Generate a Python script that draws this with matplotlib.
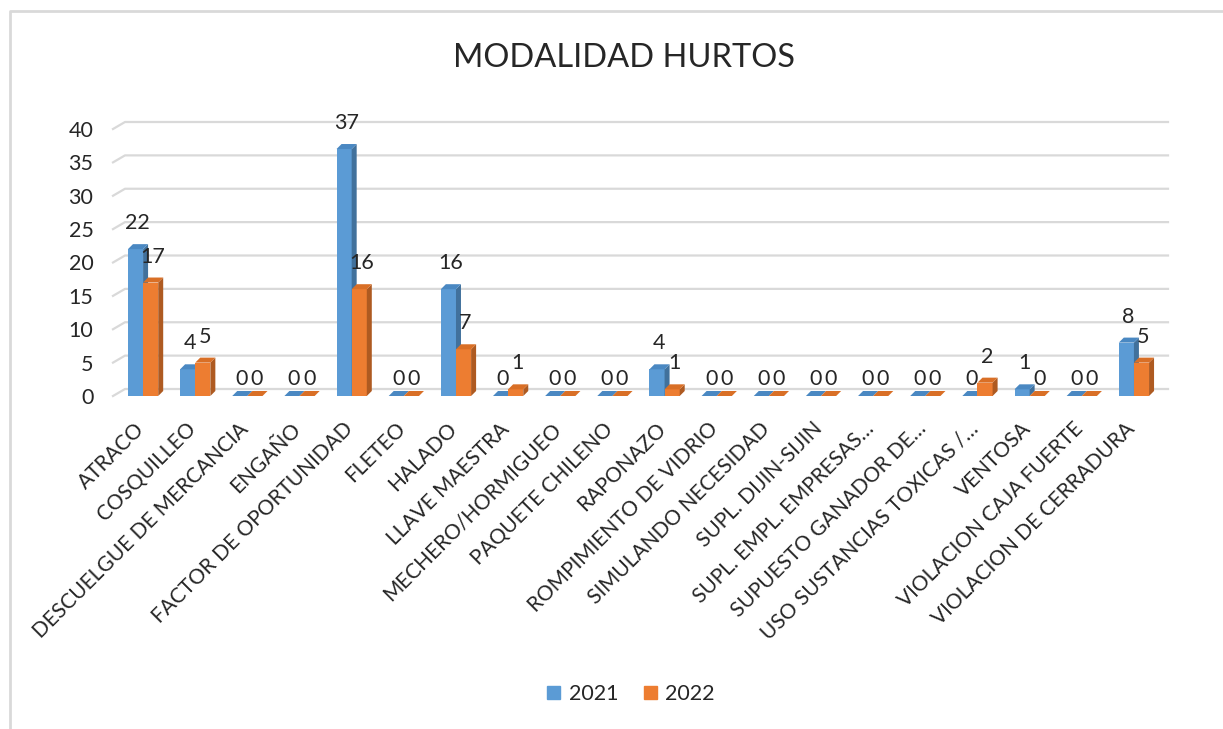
import matplotlib.pyplot as plt
import numpy as np
from matplotlib.patches import Polygon, Patch
from matplotlib.lines import Line2D
from matplotlib.transforms import ScaledTranslation

categorias = ['ATRACO', 'COSQUILLEO', 'DESCUELGUE DE MERCANCIA', 'ENGAÑO',
              'FACTOR DE OPORTUNIDAD', 'FLETEO', 'HALADO', 'LLAVE MAESTRA',
              'MECHERO/HORMIGUEO', 'PAQUETE CHILENO', 'RAPONAZO',
              'ROMPIMIENTO DE VIDRIO', 'SIMULANDO NECESIDAD', 'SUPL. DIJIN-SIJIN',
              'SUPL. EMPL. EMPRESAS…', 'SUPUESTO GANADOR DE…',
              'USO SUSTANCIAS TOXICAS /…', 'VENTOSA', 'VIOLACION CAJA FUERTE',
              'VIOLACION DE CERRADURA']
v2021 = [22, 4, 0, 0, 37, 0, 16, 0, 0, 0, 4, 0, 0, 0, 0, 0, 0, 1, 0, 8]
v2022 = [17, 5, 0, 0, 16, 0, 7, 1, 0, 0, 1, 0, 0, 0, 0, 0, 2, 0, 0, 5]

plt.rcParams['font.family'] = ['Lato', 'DejaVu Sans']
FS = 15.5

fig = plt.figure(figsize=(12.23, 7.29), dpi=100)
ax = fig.add_axes([117 / 1223, 1 - 396 / 729, 1043 / 1223, 267 / 729])
n = len(categorias)
x = np.arange(n)
w = 0.29
ax.set_xlim(-0.5, n - 0.5)
ax.set_ylim(0, 40)

# pixel sizes in data units
pxx = n / ax.bbox.width
pxy = 40 / ax.bbox.height

# back-wall gridlines with the slanted left end
gdx, gdy = 8 * pxx, 7 * pxy
for v in range(0, 41, 5):
    ax.plot([-0.5 - 4 * pxx, -0.5 + gdx, n - 0.5 + gdx], [v, v + gdy, v + gdy],
            color='#d9d9d9', lw=1.6, clip_on=False, zorder=1)

ddx, ddy = 5 * pxx, 5 * pxy
series = [(v2021, -w / 2, '#5b9bd5', '#41719c', '#4a88c2'),
          (v2022, w / 2, '#ed7d31', '#ae5a21', '#d96f26')]
for k, (vals, off, front, side, top) in enumerate(series):
    z = 3 + k
    ax.bar(x + off, vals, width=w, color=front, linewidth=0, zorder=z)
    for xi, v in zip(x, vals):
        x0, x1 = xi + off - w / 2, xi + off + w / 2
        ax.add_patch(Polygon([(x1, 0), (x1 + ddx, ddy), (x1 + ddx, v + ddy), (x1, v)],
                             closed=True, color=side, lw=0, zorder=z, clip_on=False))
        ax.add_patch(Polygon([(x0, v), (x0 + ddx, v + ddy), (x1 + ddx, v + ddy), (x1, v)],
                             closed=True, color=top, lw=0, zorder=z, clip_on=False))
        ax.annotate(str(v), xy=(xi + off, v), xytext=(2, 26 if v else 17),
                    textcoords='offset pixels', ha='center', va='center',
                    fontsize=FS, color='#262626', zorder=10, annotation_clip=False)

ax.set_yticks(range(0, 41, 5))
ax.set_xticks(x)
ax.set_xticklabels(categorias, rotation=45, ha='right', va='center',
                   rotation_mode='anchor', fontsize=15)
ax.tick_params(length=0, colors='#262626')
ax.tick_params(axis='y', pad=17, labelsize=FS)
ax.tick_params(axis='x', pad=21.5)
shift = ScaledTranslation(-0.02, 0, fig.dpi_scale_trans)
for lbl in ax.get_xticklabels():
    lbl.set_transform(lbl.get_transform() + shift)
for s in ax.spines.values():
    s.set_visible(False)

fig.text(624 / 1223, 1 - 58 / 729, 'MODALIDAD HURTOS', ha='center', va='center',
         fontsize=23.5, color='#262626')

handles = [Patch(color='#5b9bd5', label='2021'), Patch(color='#ed7d31', label='2022')]
fig.legend(handles=handles, loc='center', bbox_to_anchor=(631 / 1223, 1 - 694 / 729),
           ncol=2, frameon=False, fontsize=FS, handlelength=0.6, handleheight=0.6,
           handletextpad=0.4, columnspacing=1.2, labelcolor='#262626')

# chart area border
fig.add_artist(Line2D([10 / 1223, 10 / 1223, 1], [0, 1 - 11 / 729, 1 - 11 / 729],
                      color='#d9d9d9', lw=2))

fig.savefig('out.png', dpi=100)
